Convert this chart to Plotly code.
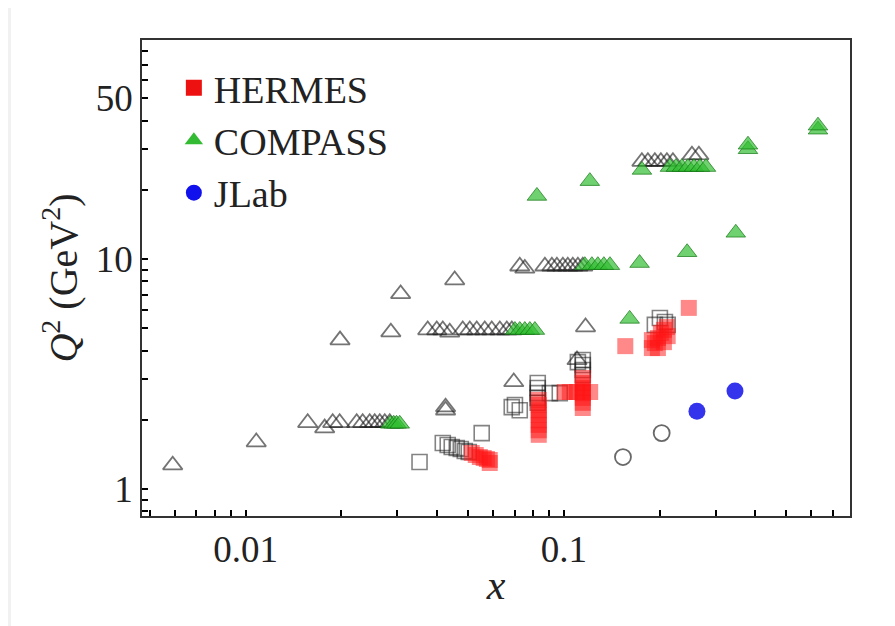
import numpy as np
import plotly.graph_objects as go

# ---------------- data ----------------
# open triangles (unfilled, black)
tri_open_x = [0.0059, 0.0108, 0.0198, 0.0286, 0.0307, 0.0454, 0.0425, 0.0425, 0.117, 0.0696, 0.110,
              0.01567, 0.01772, 0.01878, 0.01975, 0.02234, 0.02333, 0.02454, 0.02545, 0.0264, 0.02737, 0.02838,
              0.03735, 0.03987, 0.04165, 0.0438, 0.04812, 0.05063, 0.05325, 0.05643, 0.05936, 0.06293, 0.06619, 0.06864,
              0.0727, 0.0754, 0.0872, 0.0917, 0.0951, 0.0993, 0.1029, 0.1067, 0.1107, 0.1147,
              0.1759, 0.1837, 0.1932, 0.2018, 0.2108, 0.2202, 0.2527, 0.2657]
tri_open_y = [1.27, 1.60, 4.44, 4.81, 7.05, 8.1, 2.27, 2.20, 5.06, 2.92, 3.64,
              1.94, 1.84, 1.94, 1.94, 1.94, 1.94, 1.94, 1.94, 1.94, 1.94, 1.94,
              4.91, 4.91, 4.91, 4.80, 4.91, 4.91, 4.91, 4.91, 4.91, 4.91, 4.91, 4.91,
              9.3, 9.1, 9.3, 9.3, 9.3, 9.3, 9.3, 9.3, 9.3, 9.3,
              26.5, 26.5, 26.5, 26.5, 26.5, 26.5, 28.3, 28.3]

# COMPASS (filled green triangles)
compass_x = [0.0285, 0.0292, 0.0298, 0.0305,
             0.0702, 0.0727, 0.0754, 0.0782, 0.0811,
             0.1164, 0.1225, 0.1279, 0.1336, 0.1396,
             0.173, 0.244, 0.347, 0.161,
             0.0823, 0.1207, 0.176, 0.2155, 0.225, 0.235, 0.2455, 0.2564, 0.2677, 0.2797,
             0.379, 0.379, 0.629, 0.629]
compass_y = [1.92, 1.92, 1.92, 1.92,
             4.91, 4.91, 4.91, 4.91, 4.91,
             9.4, 9.4, 9.4, 9.4, 9.4,
             9.6, 10.7, 13.0, 5.49,
             18.8, 21.8, 24.4, 25.1, 25.1, 25.1, 25.1, 25.1, 25.1, 25.1,
             30.0, 31.4, 36.5, 38.0]

# open squares (unfilled, black)
sq_open_x = [0.0352, 0.0552,
             0.04165, 0.04316, 0.04444, 0.04608, 0.04745, 0.04883, 0.05027,
             0.0702, 0.0727, 0.0686, 0.0828, 0.0828, 0.0828, 0.0828, 0.0828, 0.0904, 0.0971,
             0.1147, 0.1147, 0.1147, 0.1147, 0.1107,
             0.2004, 0.2078, 0.212, 0.1932]
sq_open_y = [1.31, 1.75,
             1.585, 1.553, 1.523, 1.507, 1.492, 1.462, 1.449,
             2.32, 2.20, 2.27, 2.89, 2.75, 2.61, 2.49, 2.37, 2.61, 2.61,
             3.64, 3.46, 3.29, 3.13, 3.56,
             5.54, 5.32, 5.17, 5.17]

# HERMES (filled red squares)
hermes_x = [0.05136, 0.05287, 0.05445, 0.056, 0.0573, 0.0585, 0.0585,
            0.0834, 0.0834, 0.0834, 0.0834, 0.0834, 0.0834, 0.0834, 0.0834,
            0.1007, 0.1044, 0.110, 0.1147, 0.121,
            0.1147, 0.1147, 0.1147, 0.1147, 0.1147, 0.1147, 0.1147,
            0.1891, 0.1932, 0.1975, 0.2018, 0.2063, 0.2108, 0.1975, 0.2063, 0.212, 0.1891,
            0.156, 0.247]
hermes_y = [1.434, 1.405, 1.377, 1.364, 1.35, 1.337, 1.297,
            2.44, 2.32, 2.20, 2.10, 1.99, 1.90, 1.80, 1.72,
            2.64, 2.64, 2.64, 2.64, 2.64,
            3.04, 2.89, 2.75, 2.61, 2.49, 2.37, 2.25,
            4.10, 4.31, 4.53, 4.77, 4.92, 5.06, 4.10, 4.35, 4.62, 4.44,
            4.18, 6.13]

# open circles
circ_open_x = [0.1534, 0.203]
circ_open_y = [1.377, 1.75]

# JLab (filled blue circles)
jlab_x = [0.262, 0.345]
jlab_y = [2.18, 2.67]

x_labels = {0.01: "0.01", 0.1: "0.1"}
y_labels = {1: "1", 10: "10", 50: "50"}

# ---------------- figure ----------------
FONT = "Liberation Serif"
fig = go.Figure()

fig.add_trace(go.Scatter(x=tri_open_x, y=tri_open_y, mode="markers", showlegend=False,
                         marker=dict(symbol="triangle-up-open", size=17, color="rgba(30,30,30,0.62)",
                                     line=dict(width=1.8, color="rgba(30,30,30,0.62)"))))
fig.add_trace(go.Scatter(x=sq_open_x, y=sq_open_y, mode="markers", showlegend=False,
                         marker=dict(symbol="square-open", size=15, color="rgba(30,30,30,0.55)",
                                     line=dict(width=1.6, color="rgba(30,30,30,0.55)"))))
fig.add_trace(go.Scatter(x=circ_open_x, y=circ_open_y, mode="markers", showlegend=False,
                         marker=dict(symbol="circle-open", size=16, color="rgba(40,40,40,0.7)",
                                     line=dict(width=1.8, color="rgba(40,40,40,0.7)"))))
fig.add_trace(go.Scatter(x=compass_x, y=compass_y, mode="markers", showlegend=False,
                         marker=dict(symbol="triangle-up", size=17, color="rgba(50,190,50,0.7)",
                                     line=dict(width=1, color="rgba(20,120,20,0.7)"))))
fig.add_trace(go.Scatter(x=hermes_x, y=hermes_y, mode="markers", showlegend=False,
                         marker=dict(symbol="square", size=16, color="rgba(255,20,20,0.5)",
                                     line=dict(width=0))))
fig.add_trace(go.Scatter(x=jlab_x, y=jlab_y, mode="markers", showlegend=False,
                         marker=dict(symbol="circle", size=17, color="rgba(30,30,235,0.9)",
                                     line=dict(width=0))))

# legend entries
for name, sym, col, grp in [("HERMES", "square", "#ee1111", "a"),
                            ("COMPASS", "triangle-up", "#33bb33", "b"),
                            ("JLab", "circle", "#1111ee", "c")]:
    fig.add_trace(go.Scatter(x=[None], y=[None], mode="markers", name=name, legendgroup=grp,
                             marker=dict(symbol=sym, size=16, color=col, line=dict(width=0))))

xt = [m * 10.0 ** e for e in (-3, -2, -1) for m in range(1, 10)]
xt = [v for v in xt if 0.0047 <= v <= 0.8]
yt = [m * 10.0 ** e for e in (-1, 0, 1) for m in range(1, 10)]
yt = [v for v in yt if 0.76 <= v <= 90]

def lab(v, d):
    for k, s in d.items():
        if abs(v - k) < 1e-9 * max(1, k):
            return s
    return ""

fig.update_xaxes(type="log", range=[np.log10(0.004725), np.log10(0.793)],
                 tickvals=xt, ticktext=[lab(v, x_labels) for v in xt],
                 ticks="inside", ticklen=6, tickwidth=2, tickcolor="black",
                 showline=True, linecolor="#333", linewidth=1.5, mirror=True,
                 showgrid=False, zeroline=False,
                 tickfont=dict(family=FONT, size=37, color="#222"),
                 title=dict(text="<i>x</i>", font=dict(family=FONT, size=42, color="#222"), standoff=0))
fig.update_yaxes(type="log", range=[np.log10(0.763), np.log10(89.6)],
                 tickvals=yt, ticktext=[lab(v, y_labels) for v in yt],
                 ticks="inside", ticklen=6, tickwidth=2, tickcolor="black",
                 showline=True, linecolor="#333", linewidth=1.5, mirror=True,
                 showgrid=False, zeroline=False,
                 tickfont=dict(family=FONT, size=37, color="#222"),
                 title=dict(text="<i>Q</i><sup>2</sup> (GeV<sup>2</sup>)",
                            font=dict(family=FONT, size=40, color="#222"), standoff=6))

# page offset (8 px body margin) compensated in the margins
L, R, T, B = 134, 53, 32, 118
pw, ph = 895 - L - R, 626 - T - B
fig.add_shape(type="rect", xref="paper", yref="paper", layer="below",
              x0=(3 - L) / pw, x1=(900 - L) / pw, y0=(T + ph - 640) / ph, y1=(T + ph + 2) / ph,
              fillcolor="white", line=dict(width=0))

fig.update_layout(width=895, height=626, margin=dict(l=L, r=R, t=T, b=B),
                  paper_bgcolor="#f1f1f1", plot_bgcolor="white",
                  legend=dict(x=0.045, y=0.965, xanchor="left", yanchor="top",
                              bgcolor="rgba(0,0,0,0)", tracegroupgap=0,
                              font=dict(family=FONT, size=38, color="#222")))

fig.write_html("out.html")
